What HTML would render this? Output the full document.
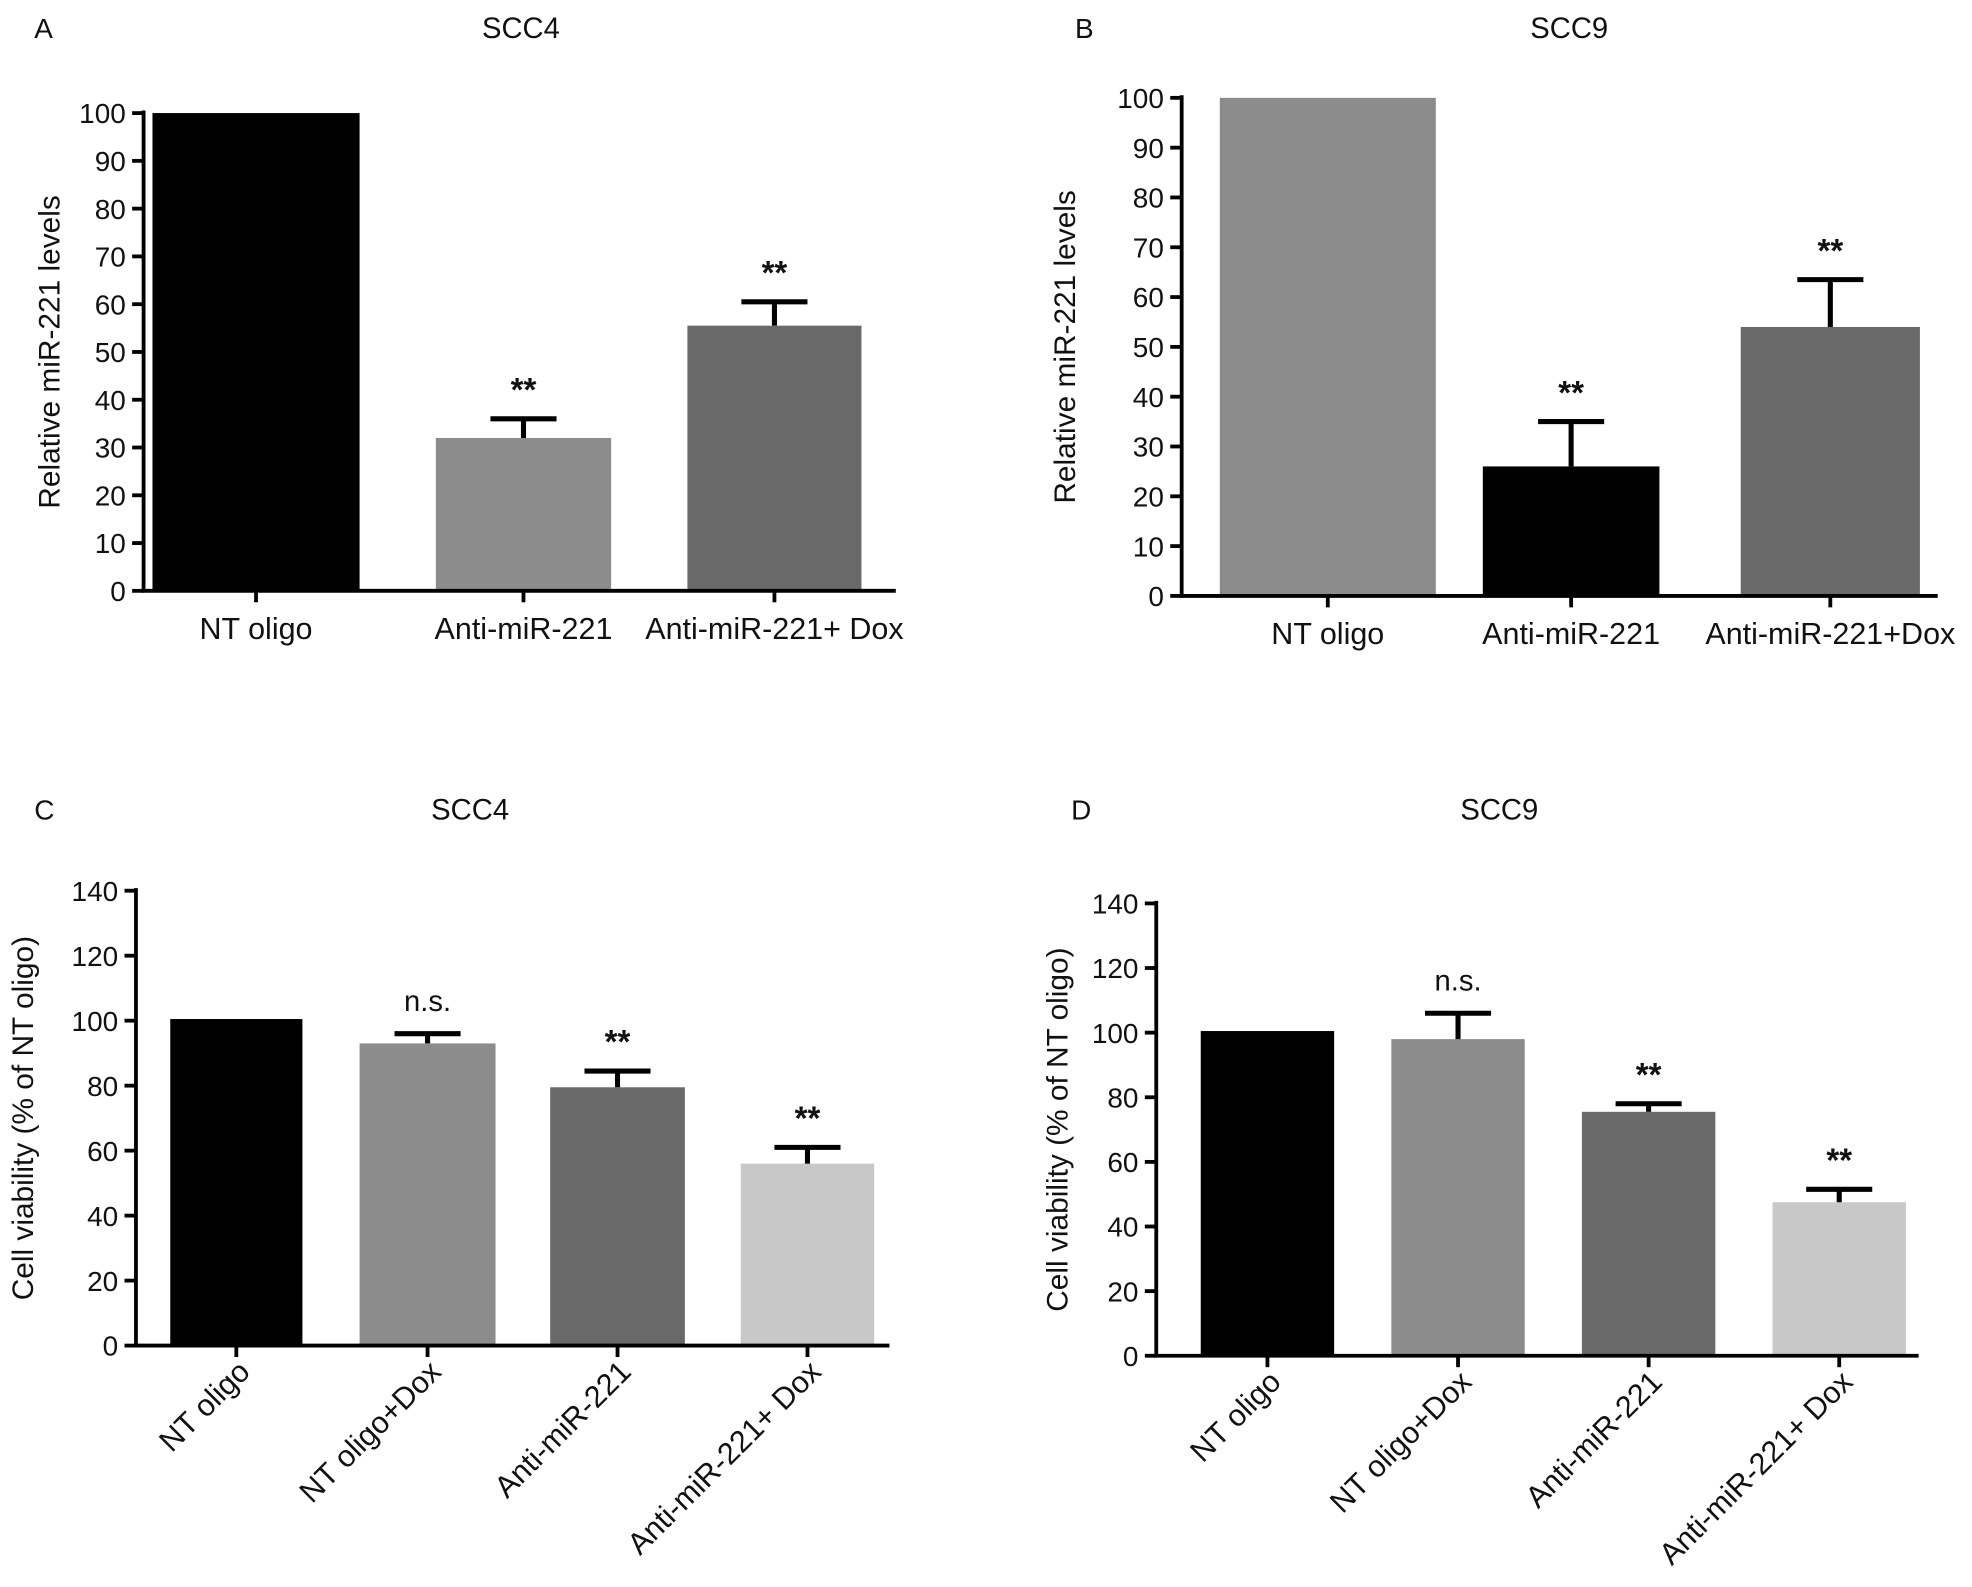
<!DOCTYPE html>
<html><head><meta charset="utf-8"><style>
html,body{margin:0;padding:0;background:#fff}
svg{display:block}
text{font-family:"Liberation Sans",Arial,sans-serif;fill:#111}
</style></head><body>
<svg id="fig" width="1972" height="1587" viewBox="0 0 1552 1249" preserveAspectRatio="none" xmlns="http://www.w3.org/2000/svg"></svg>
<script>
// Panel A data
const catsA=["NT oligo","Anti-miR-221","Anti-miR-221+ Dox"];
const valsA=[100,32,55.5];
const errA=[0,36,60.5];
const sigA=["","**","**"];
const colA=["#000","#8c8c8c","#696969"];
// Panel B data
const catsB=["NT oligo","Anti-miR-221","Anti-miR-221+Dox"];
const valsB=[100,26,54];
const errB=[0,35,63.5];
const sigB=["","**","**"];
const colB=["#8c8c8c","#000","#696969"];
// Panel C data
const catsC=["NT oligo","NT oligo+Dox","Anti-miR-221","Anti-miR-221+ Dox"];
const valsC=[100.5,93,79.5,56];
const errC=[0,96,84.5,61];
const sigC=["","n.s.","**","**"];
const colC=["#000","#8c8c8c","#696969","#c8c8c8"];
// Panel D data
const catsD=["NT oligo","NT oligo+Dox","Anti-miR-221","Anti-miR-221+ Dox"];
const valsD=[100.5,98,75.5,47.5];
const errD=[0,106,78,51.5];
const sigD=["","n.s.","**","**"];
const colD=["#000","#8c8c8c","#696969","#c8c8c8"];
const ticksAB=[0,10,20,30,40,50,60,70,80,90,100];
const ticksCD=[0,20,40,60,80,100,120,140];

const svg=document.getElementById('fig');
const NS="http://www.w3.org/2000/svg";
function el(tag,attrs,parent,txt){const e=document.createElementNS(NS,tag);for(const k in attrs)e.setAttribute(k,attrs[k]);if(txt!==undefined)e.textContent=txt;parent.appendChild(e);return e;}

function panel(o){
  const g=el('g',{},svg);
  
  
  const ymax=o.ticks[o.ticks.length-1];
  const y=v=>o.y0-(v/ymax)*(o.y0-o.ytop);
  const L=el('text',{x:o.lx,y:o.ty,'font-size':22},g,o.letter);
  
  const T=el('text',{x:o.tx,y:o.ty,'font-size':23,'text-anchor':'middle'},g,o.title);
  
  o.cats.forEach((c,i)=>{
    const x0=o.barX[i],w=o.barW[i];
    const b=el('rect',{x:x0,y:y(o.vals[i]),width:w,height:o.y0-y(o.vals[i]),fill:o.cols[i]},g);
    
    const cx=x0+w/2;
    if(o.errs[i]>0){
      const e=el('path',{d:`M${cx},${y(o.vals[i])}V${y(o.errs[i])}M${cx-26},${y(o.errs[i])}H${cx+26}`,stroke:'#000','stroke-width':4,fill:'none'},g);
      
    }
    if(o.sig[i]){
      const top=Math.max(o.errs[i],o.vals[i]);
      const isNs=o.sig[i]==='n.s.';
      const s=el('text',{x:cx,y:y(top)-(isNs?18:14),'font-size':isNs?23:26,'font-weight':isNs?'normal':'bold','text-anchor':'middle'},g,o.sig[i]);
      
    }
    el('line',{x1:cx,x2:cx,y1:o.y0,y2:o.y0+9,stroke:'#000','stroke-width':3},g);
    let lab;
    if(o.rot){
      lab=el('text',{x:cx+12,y:o.y0+22,'font-size':24,'text-anchor':'end',transform:`rotate(-45 ${cx+12} ${o.y0+22})`},g,c);
    }else{
      lab=el('text',{x:cx,y:o.y0+38,'font-size':24,'text-anchor':'middle'},g,c);
    }
    
  });
  const ax=el('path',{d:`M${o.ax},${o.ytop-2}V${o.y0}H${o.axEnd}`,stroke:'#000','stroke-width':3,fill:'none'},g);
  
  o.ticks.forEach(t=>{
    el('line',{x1:o.ax-9,x2:o.ax,y1:y(t),y2:y(t),stroke:'#000','stroke-width':3},g);
    const tl=el('text',{x:o.ax-14,y:y(t)+8,'font-size':22,'text-anchor':'end'},g,t);
    
  });
  const yc=(o.y0+o.ytop)/2;
  const yt=el('text',{x:o.ytx,y:yc,'font-size':23.5,'text-anchor':'middle',transform:`rotate(-90 ${o.ytx} ${yc})`},g,o.ytitle);
  
}
panel({name:'panel-a',letter:'A',title:'SCC4',lx:27,tx:410,ty:30,cats:catsA,vals:valsA,errs:errA,sig:sigA,cols:colA,ticks:ticksAB,y0:465,ytop:89,ax:113,axEnd:705,barX:[120,343,541],barW:[163,138,137],rot:false,ytx:47,ytitle:'Relative miR-221 levels'});
panel({name:'panel-b',letter:'B',title:'SCC9',lx:846,tx:1235,ty:30,cats:catsB,vals:valsB,errs:errB,sig:sigB,cols:colB,ticks:ticksAB,y0:469,ytop:77,ax:930,axEnd:1525,barX:[960,1167,1370],barW:[170,139,141],rot:false,ytx:846,ytitle:'Relative miR-221 levels'});
panel({name:'panel-c',letter:'C',title:'SCC4',lx:27,tx:370,ty:645,cats:catsC,vals:valsC,errs:errC,sig:sigC,cols:colC,ticks:ticksCD,y0:1059,ytop:701,ax:107,axEnd:700,barX:[134,283,433,583],barW:[104,107,106,105],rot:true,ytx:26,ytitle:'Cell viability (% of NT oligo)'});
panel({name:'panel-d',letter:'D',title:'SCC9',lx:843,tx:1180,ty:645,cats:catsD,vals:valsD,errs:errD,sig:sigD,cols:colD,ticks:ticksCD,y0:1067,ytop:711,ax:910,axEnd:1510,barX:[945,1095,1245,1395],barW:[105,105,105,105],rot:true,ytx:840,ytitle:'Cell viability (% of NT oligo)'});
</script>
</body></html>
